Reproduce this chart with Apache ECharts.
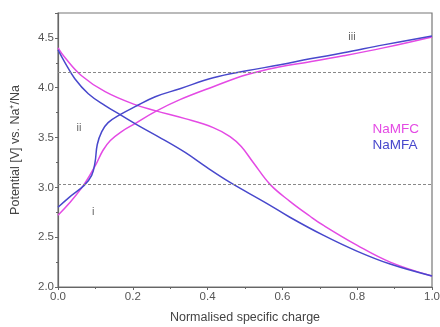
<!DOCTYPE html>
<html><head><meta charset="utf-8">
<script src="https://cdn.jsdelivr.net/npm/echarts@6/dist/echarts.min.js"></script>
<style>html,body{margin:0;padding:0;background:#fff}#c{width:440px;height:327px}</style>
</head><body><div id="c"></div>
<script>
// NaMFA charge (blue, rising)
const mfaChargeX = [0, 0.03, 0.07, 0.09, 0.099, 0.105, 0.117, 0.134, 0.166, 0.206, 0.26, 0.326, 0.415, 0.504, 0.594, 0.674, 0.763, 0.87, 1.0];
const mfaChargeY = [2.80, 2.90, 3.02, 3.12, 3.25, 3.43, 3.56, 3.65, 3.73, 3.81, 3.91, 3.99, 4.10, 4.17, 4.23, 4.29, 4.35, 4.43, 4.52];
// NaMFC charge (magenta, rising)
const mfcChargeX = [0, 0.03, 0.068, 0.1, 0.12, 0.14, 0.17, 0.206, 0.26, 0.326, 0.415, 0.504, 0.594, 0.674, 0.763, 0.87, 1.0];
const mfcChargeY = [2.72, 2.84, 3.02, 3.22, 3.37, 3.47, 3.56, 3.64, 3.76, 3.88, 4.01, 4.13, 4.21, 4.26, 4.32, 4.40, 4.51];
// NaMFA discharge (blue, falling)
const mfaDischX = [0, 0.019, 0.045, 0.081, 0.126, 0.166, 0.215, 0.277, 0.34, 0.398, 0.46, 0.558, 0.62, 0.709, 0.799, 0.888, 1.0];
const mfaDischY = [4.38, 4.25, 4.09, 3.94, 3.82, 3.73, 3.62, 3.49, 3.35, 3.20, 3.05, 2.84, 2.70, 2.52, 2.36, 2.23, 2.11];
// NaMFC discharge (magenta, falling)
const mfcDischX = [0, 0.019, 0.063, 0.126, 0.206, 0.26, 0.34, 0.415, 0.46, 0.49, 0.522, 0.567, 0.62, 0.674, 0.709, 0.799, 0.888, 1.0];
const mfcDischY = [4.40, 4.30, 4.12, 3.96, 3.83, 3.77, 3.69, 3.60, 3.51, 3.41, 3.25, 3.03, 2.86, 2.71, 2.62, 2.42, 2.25, 2.11];
// reference levels (dashed)
const refLevels = [4.16, 3.03];
// annotations
const annoText = ['i', 'ii', 'iii'];
const annoX = [0.094, 0.056, 0.786];
const annoY = [2.75, 3.60, 4.51];
const xTicks = ['0.0', '0.2', '0.4', '0.6', '0.8', '1.0'];

const MAG = '#e44ae4', BLUE = '#4848cc', GREY = '#666';
const FONT = 'Liberation Sans, Arial, sans-serif';
const zip = (xs, ys) => xs.map((x, i) => [x, ys[i]]);

const lineBase = {type: 'line', showSymbol: false, symbol: 'none', smooth: 0.4, silent: true};

const chart = echarts.init(document.getElementById('c'), null, {renderer: 'canvas'});
chart.setOption({
  animation: false,
  backgroundColor: '#fff',
  grid: {left: 58, right: 8, top: 13, bottom: 40, show: true, borderColor: '#777', borderWidth: 1.2,
    containLabel: false, outerBoundsMode: 'none'},
  legend: {
    orient: 'vertical', right: 16, top: 117, icon: 'none', itemGap: 2, itemWidth: 0, itemHeight: 14,
    textStyle: {fontFamily: FONT, fontSize: 13.5},
    data: [{name: 'NaMFC', textStyle: {color: MAG}}, {name: 'NaMFA', textStyle: {color: BLUE}}]
  },
  xAxis: {
    type: 'value', min: 0, max: 1, interval: 0.2,
    name: 'Normalised specific charge', nameLocation: 'middle', nameGap: 24,
    nameTextStyle: {fontFamily: FONT, fontSize: 12.5, color: '#444'},
    axisLine: {lineStyle: {color: GREY, width: 1.2}},
    axisTick: {inside: false, length: 3, lineStyle: {color: GREY}},
    minorTick: {show: true, splitNumber: 2, length: 2, lineStyle: {color: GREY}},
    splitLine: {show: false},
    axisLabel: {fontFamily: FONT, fontSize: 11.5, color: '#555', margin: 4,
      formatter: v => xTicks[Math.round(v * 5)] ?? ''}
  },
  yAxis: {
    type: 'value', min: 2.0, max: 4.75, interval: 0.5,
    name: 'Potential [V] vs. Na\u207A/Na', nameLocation: 'middle', nameGap: 36,
    nameTextStyle: {fontFamily: FONT, fontSize: 12.5, color: '#444'},
    axisLine: {show: true, lineStyle: {color: GREY, width: 1.2}},
    axisTick: {length: 3, lineStyle: {color: GREY}},
    minorTick: {show: true, splitNumber: 2, length: 2, lineStyle: {color: GREY}},
    splitLine: {show: false},
    axisLabel: {fontFamily: FONT, fontSize: 11.5, color: '#555', margin: 4, showMaxLabel: false,
      formatter: v => (Math.abs(v * 2 - Math.round(v * 2)) < 1e-6 ? v.toFixed(1) : '')}
  },
  series: [
    Object.assign({}, lineBase, {name: 'NaMFC', data: zip(mfcChargeX, mfcChargeY), lineStyle: {color: MAG, width: 1.5}, itemStyle: {color: MAG},
      markLine: {silent: true, symbol: 'none', label: {show: false},
        lineStyle: {color: '#888', type: [3, 2], width: 1.2},
        data: refLevels.map(v => ({yAxis: v}))}}),
    Object.assign({}, lineBase, {name: 'NaMFC', data: zip(mfcDischX, mfcDischY), lineStyle: {color: MAG, width: 1.5}, itemStyle: {color: MAG}}),
    Object.assign({}, lineBase, {name: 'NaMFA', data: zip(mfaChargeX, mfaChargeY), lineStyle: {color: BLUE, width: 1.5}, itemStyle: {color: BLUE}}),
    Object.assign({}, lineBase, {name: 'NaMFA', data: zip(mfaDischX, mfaDischY), lineStyle: {color: BLUE, width: 1.5}, itemStyle: {color: BLUE},
      markPoint: {silent: true, symbol: 'circle', symbolSize: 0,
        label: {show: true, position: 'inside', fontFamily: FONT, fontSize: 11, color: GREY, formatter: p => p.name},
        data: annoText.map((t, i) => ({name: t, coord: [annoX[i], annoY[i]]}))}})
  ]
});
</script>
</body></html>
